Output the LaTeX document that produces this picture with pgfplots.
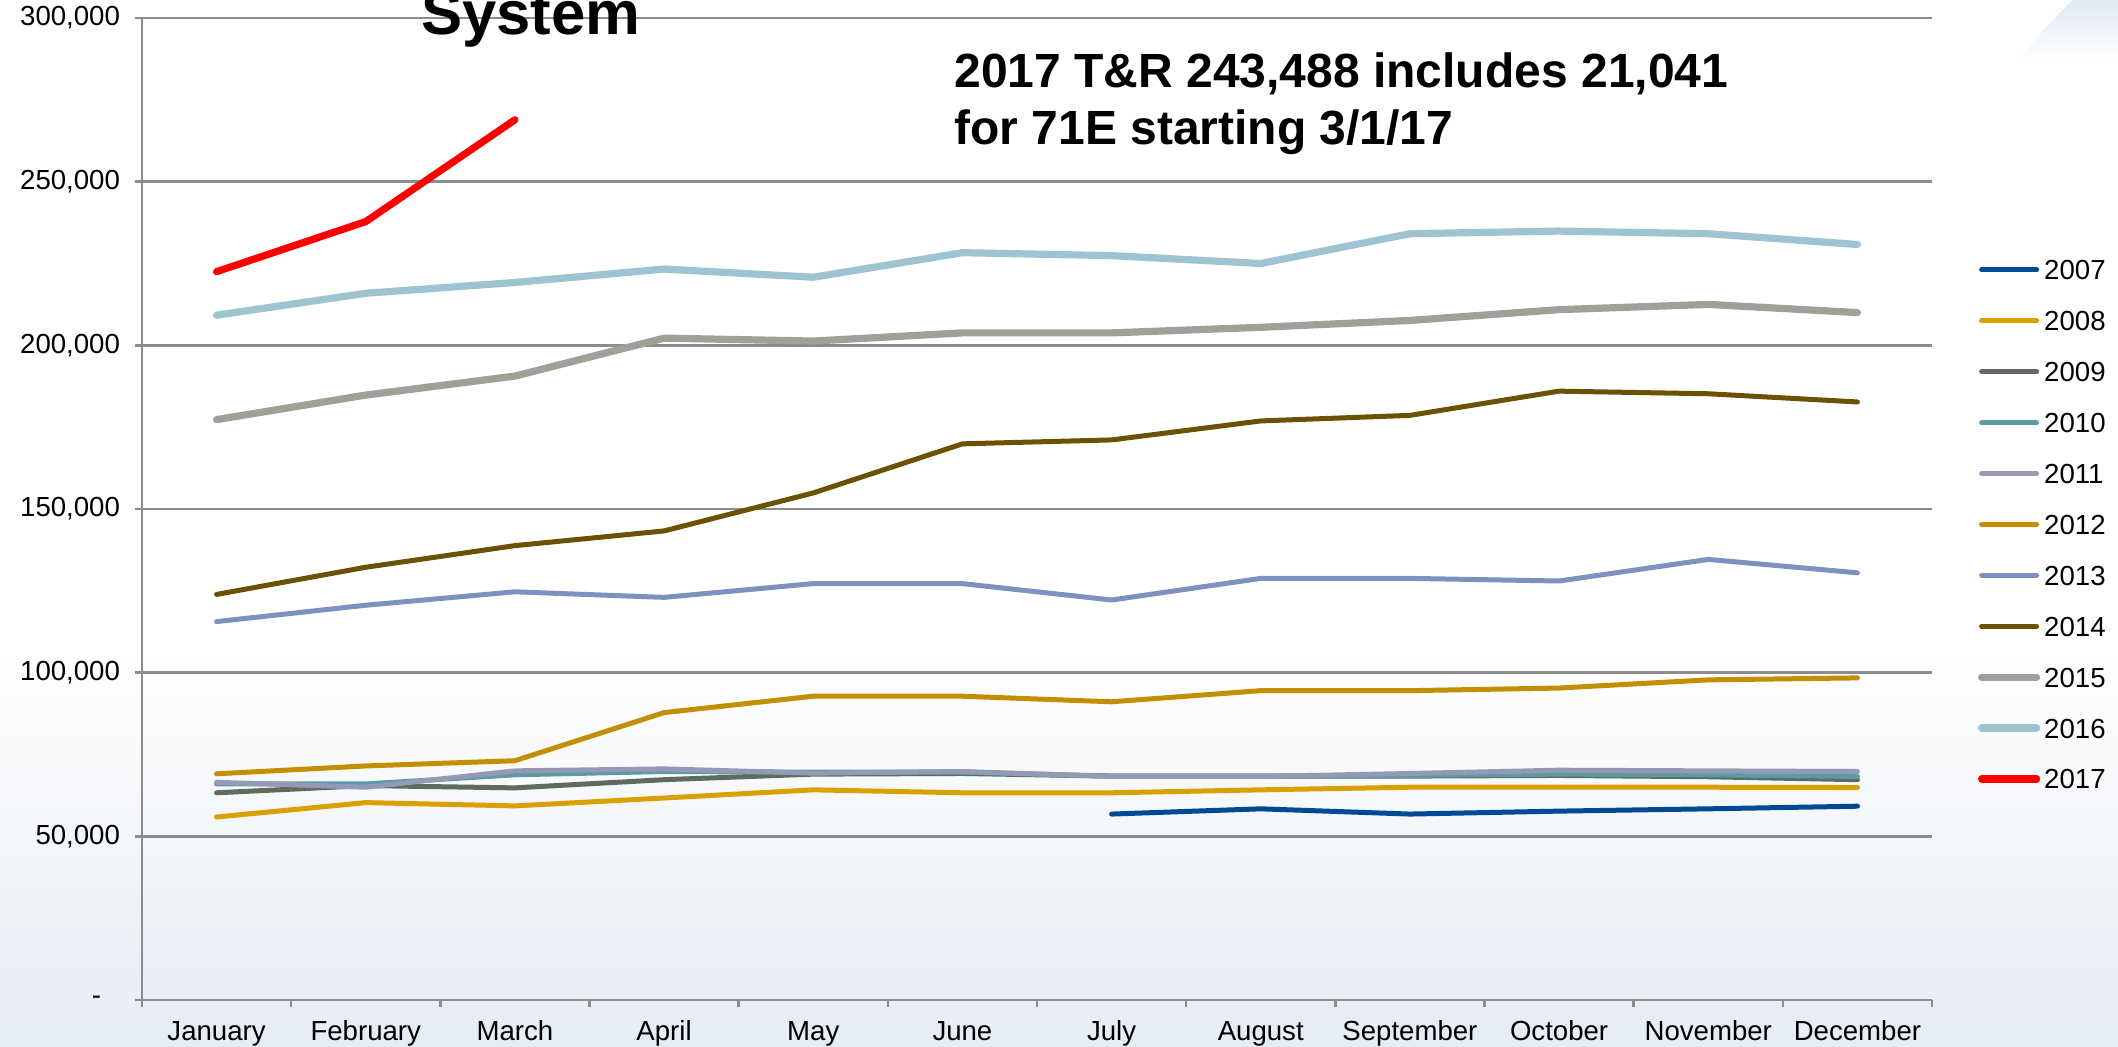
\documentclass[border=0pt]{standalone}
\usepackage{fontspec}
\setmainfont{Liberation Sans}
\usepackage{pgfplots}
\pgfplotsset{compat=1.18}
\definecolor{c2007}{HTML}{004A93}
\definecolor{c2008}{HTML}{D8A000}
\definecolor{c2009}{HTML}{5F6B5C}
\definecolor{c2010}{HTML}{5B9BA8}
\definecolor{c2011}{HTML}{9499B6}
\definecolor{c2012}{HTML}{C28F00}
\definecolor{c2013}{HTML}{7F91BF}
\definecolor{c2014}{HTML}{6B5102}
\definecolor{c2015}{HTML}{9DA299}
\definecolor{c2016}{HTML}{9EC4D2}
\definecolor{c2017}{HTML}{FF0000}
\definecolor{gridc}{HTML}{8C8C8C}
\definecolor{bgb}{HTML}{E6ECF4}
\definecolor{bub}{HTML}{A9C1E2}
\begin{document}
\begin{tikzpicture}[x=1pt,y=1pt]
\useasboundingbox (0,0) rectangle (1059,523.5);
\fill[white] (0,0) rectangle (1059,523.5);
\shade[top color=white, bottom color=bgb] (0,0) rectangle (1059,200);
\begin{scope}
\clip (1165,383.5) circle (190);
\shade[top color=bub, bottom color=white] (900,493.5) rectangle (1100,573.5);
\end{scope}
\begin{axis}[
  at={(71pt,23.5pt)}, anchor=south west,
  scale only axis, width=895pt, height=491pt,
  xmin=-0.5, xmax=11.5, ymin=0, ymax=300000,
  axis x line*=bottom, axis y line*=left,
  axis line style={draw=gridc, line width=1.3pt},
  ytick={0,50000,100000,150000,200000,250000,300000},
  yticklabels={{\makebox[14pt][l]{-}},{50,000},{100,000},{150,000},{200,000},{250,000},{300,000}},
  xtick={-0.5,0.5,...,11.5},
  x tick label as interval,
  xticklabels={January,February,March,April,May,June,July,August,September,October,November,December},
  ymajorgrids, grid style={draw=gridc, line width=1.3pt},
  tick align=outside, major tick length=3.5pt,
  tick style={draw=gridc, line width=1.3pt},
  ticklabel style={font=\fontsize{13.8}{16}\selectfont},
  yticklabel style={xshift=-4pt},
  xticklabel style={text height=10pt, yshift=-3pt},
  scaled y ticks=false,
  legend cell align=left,
  legend style={at={(1.0257,0.7536)}, anchor=north west, draw=none, fill=none,
    inner sep=0pt, outer sep=0pt, row sep=15.45pt, column sep=2pt,
    font=\fontsize{13.8}{16}\selectfont,
    nodes={inner sep=0pt, text height=10pt, text depth=0pt}},
  legend image code/.code={\draw[#1, line cap=round] (0pt,0pt) -- (27.5pt,0pt);},
  every axis plot/.append style={line cap=round, line join=round, mark=none},
  thin/.style={line width=2.5pt},
  thick/.style={line width=3.6pt},
]
\addplot[c2007, thin] coordinates {(6,56800) (7,58400) (8,56800) (9,57700) (10,58400) (11,59200)};
\addlegendentry{2007}
\addplot[c2008, thin] coordinates {(0,55900) (1,60300) (2,59300) (3,61700) (4,64200) (5,63300) (6,63300) (7,64200) (8,65000) (9,65000) (10,65000) (11,64900)};
\addlegendentry{2008}
\addplot[c2009, thin] coordinates {(0,63300) (1,65500) (2,64800) (3,67300) (4,69000) (5,69200) (6,68400) (7,68400) (8,68400) (9,68600) (10,68200) (11,67300)};
\addlegendentry{2009}
\addplot[c2010, thin] coordinates {(0,66000) (1,66000) (2,68800) (3,69800) (4,69600) (5,69600) (6,68400) (7,68400) (8,68600) (9,69000) (10,68800) (11,68300)};
\addlegendentry{2010}
\addplot[c2011, thin] coordinates {(0,66500) (1,65000) (2,70000) (3,70600) (4,69300) (5,69800) (6,68300) (7,68300) (8,69200) (9,70200) (10,70000) (11,69800)};
\addlegendentry{2011}
\addplot[c2012, thin] coordinates {(0,69100) (1,71500) (2,73100) (3,87800) (4,92800) (5,92800) (6,91100) (7,94500) (8,94500) (9,95300) (10,97800) (11,98400)};
\addlegendentry{2012}
\addplot[c2013, thin] coordinates {(0,115600) (1,120600) (2,124700) (3,123000) (4,127200) (5,127200) (6,122200) (7,128800) (8,128800) (9,128000) (10,134600) (11,130500)};
\addlegendentry{2013}
\addplot[c2014, thin] coordinates {(0,123900) (1,132200) (2,138800) (3,143300) (4,154900) (5,169900) (6,171100) (7,176900) (8,178600) (9,186000) (10,185200) (11,182700)};
\addlegendentry{2014}
\addplot[c2015, thick] coordinates {(0,177300) (1,184800) (2,190600) (3,202200) (4,201300) (5,203800) (6,203800) (7,205500) (8,207600) (9,210900) (10,212500) (11,210000)};
\addlegendentry{2015}
\addplot[c2016, thick] coordinates {(0,209200) (1,215900) (2,219200) (3,223300) (4,220800) (5,228300) (6,227400) (7,225000) (8,234100) (9,234900) (10,234100) (11,230800)};
\addlegendentry{2016}
\addplot[c2017, thick] coordinates {(0,222500) (1,237800) (2,268900)};
\addlegendentry{2017}
\end{axis}
\node[anchor=base west, inner sep=0pt, font=\bfseries\fontsize{30.8}{34}\selectfont] at (210.5,506) {System};
\node[anchor=base west, inner sep=0pt, font=\bfseries\fontsize{24}{28.5}\selectfont] at (477,479.5) {2017 T\&R 243,488 includes 21,041};
\node[anchor=base west, inner sep=0pt, font=\bfseries\fontsize{24}{28.5}\selectfont] at (477,451) {for 71E starting 3/1/17};
\end{tikzpicture}
\end{document}
